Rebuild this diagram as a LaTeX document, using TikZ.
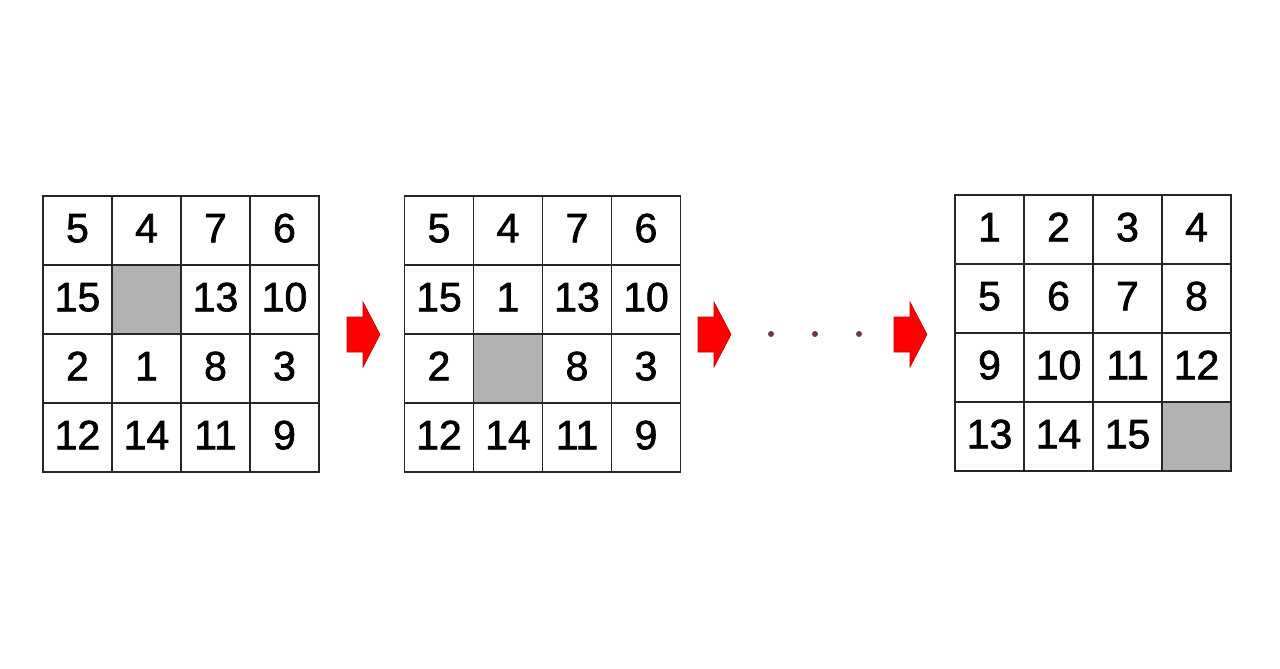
\documentclass[tikz,border=0pt]{standalone}
\usepackage{fontspec}
\setmainfont{Liberation Sans}[BoldFont=Liberation Sans,BoldFeatures={FakeBold=1.6}]
\definecolor{dotcol}{RGB}{110,55,70}
\begin{document}
\begin{tikzpicture}[x=1pt,y=-1pt,
  cell/.style={draw=black!85,line width=1.2pt,minimum size=69pt,inner sep=0pt,
    text height=23.5pt,text depth=0pt,
    font=\fontsize{41}{41}\selectfont\bfseries},
  hole/.style={cell,fill=gray!60},
  redarrow/.style={fill=red,draw=red!75!black,line width=0.6pt},
  dot/.style={circle,fill=dotcol,inner sep=0pt,minimum size=6pt}]
  \useasboundingbox (0,0) rectangle (1280,669);
  % Start position
  \foreach \n [count=\k from 0] in {5,4,7,6,15,0,13,10,2,1,8,3,12,14,11,9}{
    \pgfmathtruncatemacro\c{mod(\k,4)}
    \pgfmathtruncatemacro\r{div(\k,4)}
    \ifnum\n=0
      \node[hole] (a\k) at (77.5+69*\c,230.5+69*\r) {};
    \else
      \node[cell] (a\k) at (77.5+69*\c,230.5+69*\r) {\n};
    \fi
  }
  % After one move
  \foreach \n [count=\k from 0] in {5,4,7,6,15,1,13,10,2,0,8,3,12,14,11,9}{
    \pgfmathtruncatemacro\c{mod(\k,4)}
    \pgfmathtruncatemacro\r{div(\k,4)}
    \ifnum\n=0
      \node[hole] (b\k) at (439+69*\c,230.5+69*\r) {};
    \else
      \node[cell] (b\k) at (439+69*\c,230.5+69*\r) {\n};
    \fi
  }
  % Solved
  \foreach \n [count=\k from 0] in {1,2,3,4,5,6,7,8,9,10,11,12,13,14,15,0}{
    \pgfmathtruncatemacro\c{mod(\k,4)}
    \pgfmathtruncatemacro\r{div(\k,4)}
    \ifnum\n=0
      \node[hole] (c\k) at (989.5+69*\c,229.5+69*\r) {};
    \else
      \node[cell] (c\k) at (989.5+69*\c,229.5+69*\r) {\n};
    \fi
  }
  % Arrows
  \foreach \x in {347,698,894}
    \draw[redarrow] (\x,317) -- ++(16,0) -- ++(0,-15) -- ++(17,32.5)
      -- ++(-17,32.5) -- ++(0,-15) -- ++(-16,0) -- cycle;
  % Dots
  \foreach \x [count=\i] in {771,815,859}
    \node[dot] (d\i) at (\x,334) {};
\end{tikzpicture}
\end{document}
